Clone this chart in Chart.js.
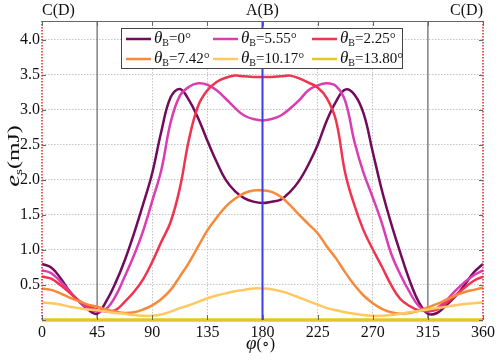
<!DOCTYPE html>
<html>
<head>
<meta charset="utf-8">
<script src="https://cdn.jsdelivr.net/npm/chart.js@4.4.0/dist/chart.umd.min.js"></script>
<style>
  html, body { margin: 0; padding: 0; background: #fff; }
  #wrap { width: 500px; height: 360px; }
</style>
</head>
<body>
<div id="wrap"><canvas id="chart" width="500" height="360"></canvas></div>
<script>
// ==================== DATA ====================
const angles = [0, 7.5, 15, 22.5, 30, 37.5, 45, 52.5, 60, 67.5, 75, 82.5, 90, 97.5, 105, 112.5, 120, 127.5, 135, 142.5, 150, 157.5, 165, 172.5, 180,
  187.5, 195, 202.5, 210, 217.5, 225, 232.5, 240, 247.5, 255, 262.5, 270, 277.5, 285, 292.5, 300, 307.5, 315, 322.5, 330, 337.5, 345, 352.5, 360];

const theta000 = [0.80, 0.75, 0.60, 0.41, 0.27, 0.15, 0.09, 0.27, 0.53, 0.85, 1.23, 1.65, 2.10, 2.70, 3.18, 3.30, 3.14, 2.88, 2.56, 2.26, 2.00, 1.84, 1.74, 1.69, 1.67,
  1.69, 1.72, 1.83, 1.99, 2.22, 2.50, 2.85, 3.12, 3.29, 3.22, 2.95, 2.40, 1.85, 1.38, 0.96, 0.57, 0.26, 0.09, 0.10, 0.21, 0.34, 0.50, 0.68, 0.80];
const theta555 = [0.71, 0.67, 0.55, 0.41, 0.27, 0.17, 0.12, 0.16, 0.34, 0.62, 0.92, 1.27, 1.70, 2.15, 2.82, 3.20, 3.33, 3.38, 3.36, 3.28, 3.16, 3.03, 2.92, 2.87, 2.85,
  2.87, 2.92, 3.02, 3.14, 3.28, 3.35, 3.38, 3.34, 3.13, 2.55, 2.10, 1.75, 1.38, 0.95, 0.65, 0.40, 0.20, 0.12, 0.17, 0.28, 0.42, 0.54, 0.64, 0.71];
const theta225 = [0.62, 0.59, 0.50, 0.39, 0.28, 0.20, 0.15, 0.12, 0.14, 0.26, 0.40, 0.58, 0.83, 1.12, 1.40, 1.88, 2.58, 3.06, 3.28, 3.40, 3.46, 3.49, 3.48, 3.47, 3.47,
  3.47, 3.48, 3.49, 3.45, 3.39, 3.32, 3.17, 2.85, 2.10, 1.64, 1.28, 1.01, 0.76, 0.50, 0.30, 0.20, 0.14, 0.13, 0.15, 0.24, 0.35, 0.46, 0.56, 0.62];
const theta742 = [0.45, 0.43, 0.38, 0.32, 0.27, 0.22, 0.19, 0.15, 0.12, 0.10, 0.11, 0.15, 0.21, 0.30, 0.43, 0.62, 0.82, 1.05, 1.28, 1.46, 1.62, 1.73, 1.81, 1.85, 1.85,
  1.83, 1.76, 1.64, 1.50, 1.37, 1.24, 1.05, 0.88, 0.68, 0.50, 0.35, 0.24, 0.16, 0.11, 0.09, 0.10, 0.13, 0.18, 0.23, 0.29, 0.35, 0.40, 0.43, 0.46];
const theta1017 = [0.25, 0.24, 0.22, 0.19, 0.17, 0.15, 0.14, 0.12, 0.10, 0.09, 0.07, 0.06, 0.06, 0.08, 0.12, 0.17, 0.21, 0.26, 0.31, 0.35, 0.38, 0.41, 0.43, 0.45, 0.45,
  0.44, 0.41, 0.37, 0.32, 0.27, 0.22, 0.17, 0.14, 0.11, 0.09, 0.07, 0.06, 0.06, 0.07, 0.09, 0.11, 0.13, 0.15, 0.17, 0.19, 0.21, 0.23, 0.24, 0.25];
const theta1380 = [0, 0, 0, 0, 0, 0, 0, 0, 0, 0, 0, 0, 0, 0, 0, 0, 0, 0, 0, 0, 0, 0, 0, 0, 0,
  0, 0, 0, 0, 0, 0, 0, 0, 0, 0, 0, 0, 0, 0, 0, 0, 0, 0, 0, 0, 0, 0, 0, 0];

const xTicks = [0, 45, 90, 135, 180, 225, 270, 315, 360];
const yTicks = [0, 0.5, 1.0, 1.5, 2.0, 2.5, 3.0, 3.5, 4.0];
const seriesLabels = ['0', '5.55', '2.25', '7.42', '10.17', '13.80'];
const seriesColors = ['#730b5c', '#dc3cb2', '#f2334f', '#f8893a', '#ffc860', '#e2c824'];
const seriesValues = [theta000, theta555, theta225, theta742, theta1017, theta1380];
const markers = [{ at: 0, text: 'C(D)', align: 'left' }, { at: 180, text: 'A(B)', align: 'center' }, { at: 360, text: 'C(D)', align: 'right' }];

const SERIF = '"Liberation Serif", "DejaVu Serif", serif';

// ==================== HELPERS ====================
function drawTheta(ctx, x, y, value) {
  // θ_B=value°
  ctx.textBaseline = 'middle';
  ctx.textAlign = 'left';
  ctx.font = 'italic 17px ' + SERIF;
  ctx.fillText('θ', x, y);
  x += ctx.measureText('θ').width;
  ctx.font = '10px ' + SERIF;
  ctx.fillText('B', x, y + 4);
  x += ctx.measureText('B').width;
  ctx.font = '15px ' + SERIF;
  ctx.fillText('=' + value + '°', x, y);
}

function drawLegend(ctx) {
  const box = { x: 121.5, y: 28.5, w: 281, h: 40 };
  ctx.save();
  ctx.fillStyle = '#fff';
  ctx.fillRect(box.x, box.y, box.w, box.h);
  ctx.strokeStyle = '#444';
  ctx.lineWidth = 1;
  ctx.strokeRect(box.x, box.y, box.w, box.h);
  const cols = [126, 213, 312];
  const rows = [39, 59];
  seriesLabels.forEach((lab, i) => {
    const cx = cols[i % 3];
    const cy = rows[Math.floor(i / 3)];
    ctx.strokeStyle = seriesColors[i];
    ctx.lineWidth = 2.5;
    ctx.beginPath();
    ctx.moveTo(cx, cy);
    ctx.lineTo(cx + 25, cy);
    ctx.stroke();
    ctx.fillStyle = '#111';
    drawTheta(ctx, cx + 28, cy, lab);
  });
  ctx.restore();
}

const decorPlugin = {
  id: 'decor',
  beforeDatasetsDraw(chart) {
    const { ctx, chartArea: a, scales: { x } } = chart;
    ctx.save();
    ctx.strokeStyle = '#6e6e6e';
    ctx.lineWidth = 1.3;
    [45, 315].forEach(v => {
      const px = x.getPixelForValue(v);
      ctx.beginPath();
      ctx.moveTo(px, a.top);
      ctx.lineTo(px, a.bottom);
      ctx.stroke();
    });
    ctx.restore();
  },
  afterDatasetsDraw(chart) {
    const { ctx, chartArea: a, scales: { x, y } } = chart;
    ctx.save();
    // blue line at A(B)
    const pb = x.getPixelForValue(180);
    ctx.strokeStyle = '#3c3ce6';
    ctx.lineWidth = 2;
    ctx.beginPath();
    ctx.moveTo(pb, a.top);
    ctx.lineTo(pb, a.bottom);
    ctx.stroke();

    // frame: grey top, red dotted sides
    ctx.strokeStyle = '#666';
    ctx.lineWidth = 1;
    ctx.beginPath();
    ctx.moveTo(a.left, a.top + 0.5);
    ctx.lineTo(a.right, a.top + 0.5);
    ctx.stroke();
    ctx.strokeStyle = '#e8202a';
    ctx.lineWidth = 1.5;
    ctx.setLineDash([1.5, 1.5]);
    [a.left, a.right].forEach(px => {
      ctx.beginPath();
      ctx.moveTo(px, a.top);
      ctx.lineTo(px, a.bottom);
      ctx.stroke();
    });
    ctx.setLineDash([]);

    // small tick marks
    ctx.strokeStyle = '#666';
    ctx.lineWidth = 1;
    xTicks.forEach(v => {
      const px = Math.round(x.getPixelForValue(v)) + 0.5;
      ctx.beginPath();
      ctx.moveTo(px, a.top);
      ctx.lineTo(px, a.top + 5);
      ctx.moveTo(px, a.bottom);
      ctx.lineTo(px, a.bottom - 5);
      ctx.stroke();
    });
    yTicks.forEach(v => {
      const py = Math.round(y.getPixelForValue(v)) + 0.5;
      ctx.beginPath();
      ctx.moveTo(a.left, py);
      ctx.lineTo(a.left + 4, py);
      ctx.moveTo(a.right, py);
      ctx.lineTo(a.right - 4, py);
      ctx.stroke();
    });
    ctx.restore();

    drawLegend(ctx);
  },
  afterDraw(chart) {
    const { ctx, scales: { x } } = chart;
    ctx.save();
    ctx.fillStyle = '#111';
    // labels above the plot
    ctx.font = '16px ' + SERIF;
    ctx.textBaseline = 'middle';
    markers.forEach(m => {
      ctx.textAlign = m.align;
      ctx.fillText(m.text, x.getPixelForValue(m.at), 11);
    });

    // x title: φ(∘)
    ctx.textAlign = 'left';
    ctx.font = 'italic 19px ' + SERIF;
    let tx = 246;
    ctx.fillText('φ', tx, 344);
    tx += ctx.measureText('φ').width;
    ctx.font = '16px ' + SERIF;
    ctx.fillText('(∘)', tx, 345);

    // y title: e_s(mJ), stretched along the axis like the original
    ctx.translate(14, 156);
    ctx.rotate(-Math.PI / 2);
    ctx.scale(1.4, 1);
    ctx.textBaseline = 'alphabetic';
    ctx.font = 'italic 19px ' + SERIF;
    const we = ctx.measureText('e').width;
    ctx.font = '11px ' + SERIF;
    const ws = ctx.measureText('s').width;
    ctx.font = '17px ' + SERIF;
    const wm = ctx.measureText('(mJ)').width;
    let ty = -(we + ws + wm) / 2;
    ctx.font = 'italic 19px ' + SERIF;
    ctx.fillText('e', ty, 5);
    ty += we;
    ctx.font = '11px ' + SERIF;
    ctx.fillText('s', ty, 8);
    ty += ws;
    ctx.font = '17px ' + SERIF;
    ctx.fillText('(mJ)', ty, 5);
    ctx.restore();
  }
};

// ==================== CHART ====================
function buildDatasets() {
  return seriesValues.map((vals, i) => ({
    label: 'θB=' + seriesLabels[i] + '°',
    data: angles.map((a, k) => ({ x: a, y: vals[k] })),
    borderColor: seriesColors[i],
    borderWidth: i === 5 ? 3.5 : 2.5,
    pointRadius: 0,
    fill: false,
    tension: 0.4,
    clip: false,
    order: i === 5 ? 0 : 6 - i
  }));
}

new Chart(document.getElementById('chart').getContext('2d'), {
  type: 'line',
  data: { datasets: buildDatasets() },
  options: {
    responsive: false,
    animation: false,
    layout: { padding: { left: 0, right: 17, top: 21, bottom: 0 } },
    plugins: { legend: { display: false }, tooltip: { enabled: false } },
    scales: {
      x: {
        type: 'linear',
        min: 0,
        max: 360,
        afterBuildTicks: s => { s.ticks = xTicks.map(v => ({ value: v })); },
        afterFit: s => { s.height = 40; },
        ticks: { color: '#111', font: { family: SERIF, size: 16 }, padding: 3, maxRotation: 0 },
        grid: {
          drawTicks: false,
          color: ctx => [90, 135, 225, 270].includes(ctx.tick && ctx.tick.value) ? '#c4c4c4' : 'rgba(0,0,0,0)',
          lineWidth: 1
        },
        border: { display: false, dash: [1.5, 1.5] }
      },
      y: {
        min: 0,
        max: 4.27,
        afterBuildTicks: s => { s.ticks = yTicks.map(v => ({ value: v })); },
        afterFit: s => { s.width = 42; },
        ticks: {
          color: '#111',
          font: { family: SERIF, size: 16 },
          padding: 2,
          callback: v => v === 0 ? '' : v.toFixed(1)
        },
        grid: { drawTicks: false, color: '#c4c4c4', lineWidth: 1 },
        border: { display: false, dash: [1.5, 1.5] }
      }
    }
  },
  plugins: [decorPlugin]
});
</script>
</body>
</html>
